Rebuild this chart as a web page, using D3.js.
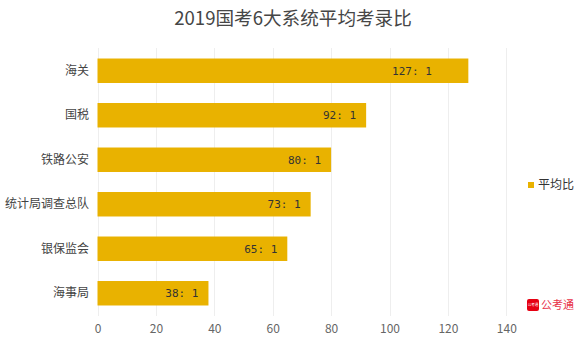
<!DOCTYPE html>
<html><head><meta charset="utf-8">
<script src="https://cdn.jsdelivr.net/npm/d3@7/dist/d3.min.js"></script>
<style>body{margin:0;background:#fff}svg{display:block}</style>
</head><body>
<svg id="c" width="586" height="347"></svg>
<script>
const categories = ["海关","国税","铁路公安","统计局调查总队","银保监会","海事局"];
const values = [127, 92, 80, 73, 65, 38];
const labels = ["127: 1    ","92: 1","80: 1","73: 1","65: 1","38: 1"];
const xTicks = [0,20,40,60,80,100,120,140];
const title = "2019国考6大系统平均考录比";
const seriesName = "平均比";

const svg = d3.select("#c");
const font = "'Noto Sans CJK SC','Noto Sans',sans-serif";
const x = d3.scaleLinear().domain([0,140]).range([97.5,506.3]);
const y = d3.scaleBand().domain(categories).range([48.5,315.5]).paddingInner(0.45).paddingOuter(0.225);

svg.append("text").attr("x",293).attr("y",25).attr("text-anchor","middle")
  .attr("font-family",font).attr("font-size",18.6).attr("fill","#464646").text(title);

const g = svg.append("g");
g.selectAll("line.grid").data(xTicks).join("line")
  .attr("x1",d=>Math.round(x(d))+0.5).attr("x2",d=>Math.round(x(d))+0.5)
  .attr("y1",48).attr("y2",316).attr("stroke","#eeeeee").attr("stroke-width",1);

const xAxis = d3.axisBottom(x).tickValues(xTicks).tickSize(0).tickPadding(0);
const ax = svg.append("g").attr("transform","translate(0,322)").call(xAxis);
ax.select(".domain").remove();
ax.selectAll("text").attr("font-family",font).attr("font-size",12).attr("fill","#666").attr("dy","0.95em");

const yAxis = d3.axisLeft(y).tickSize(0).tickPadding(0);
const ay = svg.append("g").attr("transform","translate(89,0)").call(yAxis);
ay.select(".domain").remove();
ay.selectAll("text").attr("font-family",font).attr("font-size",12).attr("fill","#444");

g.selectAll("rect.bar").data(values).join("rect")
  .attr("x",x(0)).attr("y",(d,i)=>y(categories[i]))
  .attr("width",d=>x(d)-x(0)).attr("height",y.bandwidth()).attr("fill","#e9b200");

g.selectAll("text.lbl").data(values).join("text")
  .attr("x",d=>x(d)-10).attr("y",(d,i)=>y(categories[i])+y.bandwidth()/2)
  .attr("dy","0.35em").attr("text-anchor","end").style("white-space","pre")
  .attr("font-family","'DejaVu Sans Mono','Liberation Mono',monospace").attr("font-size",11)
  .attr("fill","#333").text((d,i)=>labels[i]);

// legend
svg.append("rect").attr("x",528).attr("y",182).attr("width",6).attr("height",6).attr("fill","#e9b200");
svg.append("text").attr("x",538).attr("y",185).attr("dy","0.35em").attr("font-family",font)
  .attr("font-size",12).attr("fill","#333").text(seriesName);

// watermark
svg.append("rect").attr("x",527).attr("y",299).attr("width",12).attr("height",12).attr("rx",2).attr("fill","#e60012");
svg.append("text").attr("x",533).attr("y",305).attr("dy","0.35em").attr("text-anchor","middle")
  .attr("font-family",font).attr("font-size",3.5).attr("fill","#fff").text("公考通");
svg.append("text").attr("x",541).attr("y",305).attr("dy","0.35em").attr("font-family",font)
  .attr("font-size",11).attr("fill","#e8334a").text("公考通");
</script>
</body></html>
